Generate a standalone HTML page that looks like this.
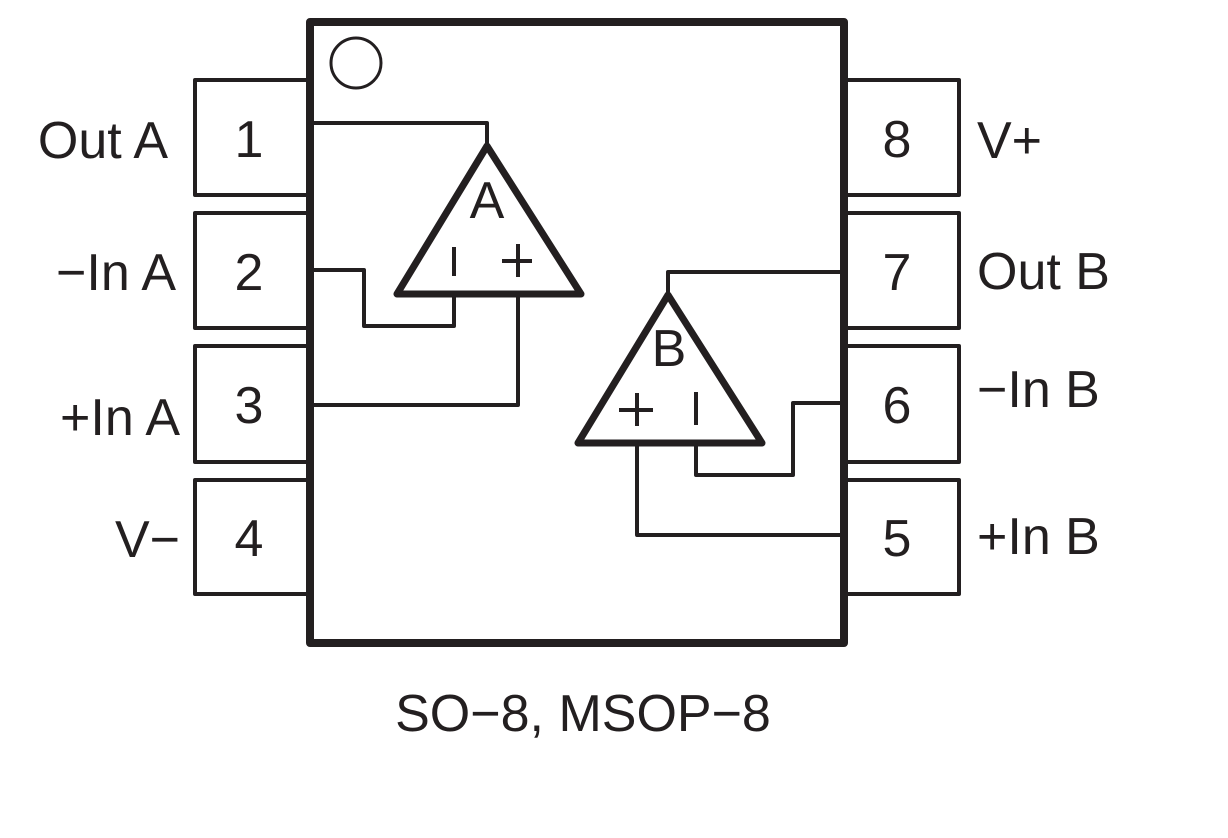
<!DOCTYPE html>
<html><head><meta charset="utf-8"><style>html,body{margin:0;padding:0;background:#fff}svg{display:block}</style></head>
<body>
<svg width="1228" height="838" viewBox="0 0 1228 838" xmlns="http://www.w3.org/2000/svg">
<g fill="none" stroke="#231f20" stroke-linejoin="round">
<g stroke-width="4">
<rect x="195" y="80" width="114" height="115"/>
<rect x="195" y="213" width="114" height="115"/>
<rect x="195" y="346" width="114" height="116"/>
<rect x="195" y="480" width="114" height="114"/>
<rect x="846" y="80" width="113" height="115"/>
<rect x="846" y="213" width="113" height="115"/>
<rect x="846" y="346" width="113" height="116"/>
<rect x="846" y="480" width="113" height="114"/>
</g>
<rect x="310" y="22" width="534" height="621" stroke-width="8" fill="#fff"/>
<circle cx="356" cy="63" r="25" stroke-width="3"/>
<g stroke-width="4">
<polyline points="314,123 487,123 487,145"/>
<polyline points="314,270 364,270 364,326 454,326 454,294"/>
<polyline points="518,294 518,405 314,405"/>
<line x1="454" y1="247" x2="454" y2="276"/>
<line x1="502" y1="261" x2="532" y2="261"/>
<line x1="518" y1="244" x2="518" y2="277"/>
<polyline points="668,294 668,272 844,272"/>
<polyline points="696,444 696,475 793,475 793,403 844,403"/>
<polyline points="637,444 637,535 844,535"/>
<line x1="619" y1="410" x2="653" y2="410"/>
<line x1="637" y1="393" x2="637" y2="426"/>
<line x1="696" y1="392" x2="696" y2="425"/>
</g>
<polygon points="487,146 397,294 581,294" stroke-width="7"/>
<polygon points="668,295 578,443 762,443" stroke-width="7"/>
</g>
<g font-family="Liberation Sans, Arial, sans-serif" font-size="52" fill="#231f20">
<text x="487" y="218" text-anchor="middle">A</text>
<text x="669" y="366" text-anchor="middle">B</text>
<g text-anchor="middle">
<text x="249" y="157">1</text>
<text x="249" y="290">2</text>
<text x="249" y="423">3</text>
<text x="249" y="556">4</text>
<text x="897" y="157">8</text>
<text x="897" y="290">7</text>
<text x="897" y="423">6</text>
<text x="897" y="556">5</text>
<text x="583" y="731">SO−8, MSOP−8</text>
</g>
<g text-anchor="end">
<text x="168" y="158">Out A</text>
<text x="176" y="290">−In A</text>
<text x="180" y="435">+In A</text>
<text x="180" y="557">V−</text>
</g>
<text x="977" y="158">V+</text>
<text x="977" y="289">Out B</text>
<text x="977" y="407">−In B</text>
<text x="977" y="554">+In B</text>
</g>
</svg>
</body></html>
